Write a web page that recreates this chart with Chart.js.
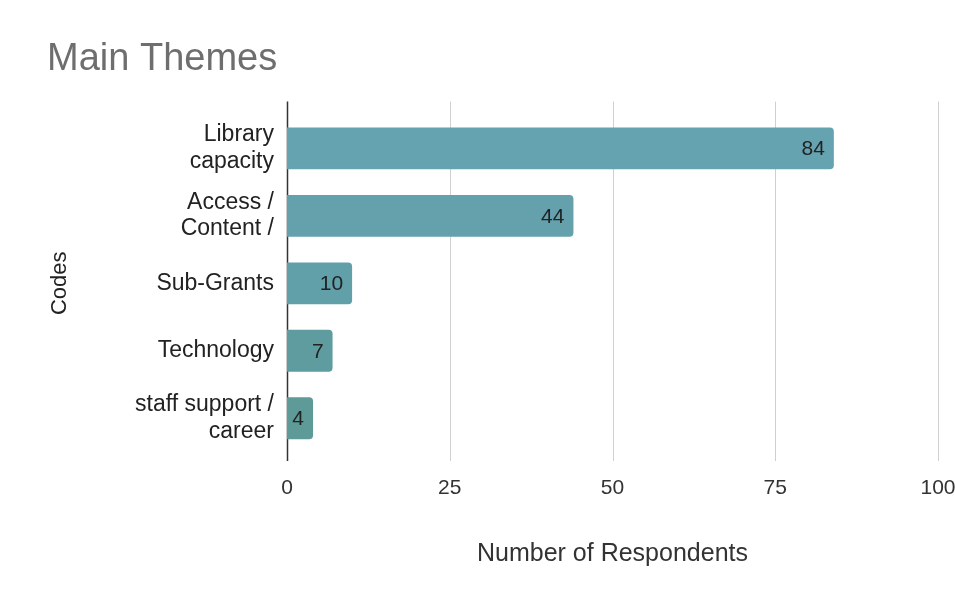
<!DOCTYPE html>
<html>
<head>
<meta charset="utf-8">
<script src="https://cdn.jsdelivr.net/npm/chart.js@4"></script>
<style>
  html, body { margin: 0; padding: 0; background: #fff; }
  canvas { display: block; }
</style>
</head>
<body>
<canvas id="themesChart" width="955" height="591"></canvas>
<script>
// Data
const categories = [['Library', 'capacity'], ['Access /', 'Content /'], 'Sub-Grants', 'Technology', ['staff support /', 'career']];
const respondents = [84, 44, 10, 7, 4];
const xTicks = [0, 25, 50, 75, 100];

const barColors = ['#66a3b0', '#64a1ad', '#62a0a9', '#5f9ca0', '#5e9a97'];
const FONT = '"Liberation Sans", Arial, sans-serif';

// gridlines + axis line, a bit taller than the plot area like the original
const gridPlugin = {
    id: 'gridLines',
    beforeDatasetsDraw(chart) {
        const { ctx, chartArea, scales } = chart;
        const top = chartArea.top - 13;
        const bottom = chartArea.bottom + 9;
        ctx.save();
        xTicks.forEach(v => {
            const x = Math.round(scales.x.getPixelForValue(v)) + 0.5;
            ctx.strokeStyle = v === 0 ? '#333333' : '#d0d0d0';
            ctx.lineWidth = v === 0 ? 1.5 : 1;
            ctx.beginPath();
            ctx.moveTo(x, top);
            ctx.lineTo(x, bottom);
            ctx.stroke();
        });
        ctx.restore();
    }
};

// value labels inside the end of each bar
const valueLabels = {
    id: 'valueLabels',
    afterDatasetsDraw(chart) {
        const { ctx } = chart;
        const meta = chart.getDatasetMeta(0);
        ctx.save();
        ctx.font = '21px ' + FONT;
        ctx.fillStyle = '#222';
        ctx.textAlign = 'right';
        ctx.textBaseline = 'middle';
        meta.data.forEach((bar, i) => {
            ctx.fillText(String(respondents[i]), bar.x - 9, bar.y + 1);
        });
        ctx.restore();
    }
};

const ctx = document.getElementById('themesChart').getContext('2d');
new Chart(ctx, {
    type: 'bar',
    data: {
        labels: categories,
        datasets: [{
            label: 'Number of Respondents',
            data: respondents,
            backgroundColor: barColors,
            borderRadius: 4,
            borderSkipped: 'start',
            barPercentage: 0.62,
            categoryPercentage: 1
        }]
    },
    options: {
        indexAxis: 'y',
        responsive: false,
        animation: false,
        layout: { padding: { left: 47, right: 17, top: 0, bottom: 18 } },
        plugins: {
            legend: { display: false },
            tooltip: { enabled: false },
            title: {
                display: true,
                text: 'Main Themes',
                align: 'start',
                color: '#6e6e6e',
                font: { family: FONT, size: 38, weight: 'normal', lineHeight: 1.2 },
                padding: { top: 37, bottom: 32 }
            }
        },
        scales: {
            x: {
                min: 0,
                max: 100,
                afterBuildTicks: scale => { scale.ticks = xTicks.map(v => ({ value: v })); },
                afterFit: scale => {
                    scale.height = 121;
                    // let the "100" run off the edge like in the original
                    scale.paddingRight = 0;
                },
                grid: { display: false, drawTicks: false },
                border: { display: false },
                ticks: {
                    padding: 24,
                    color: '#333',
                    maxRotation: 0,
                    font: { family: FONT, size: 21 }
                },
                title: {
                    display: true,
                    text: 'Number of Respondents',
                    color: '#333',
                    font: { family: FONT, size: 25, lineHeight: 1.2 },
                    padding: { top: 0, bottom: 4 }
                }
            },
            y: {
                afterFit: scale => { scale.width = 240; },
                grid: { display: false, drawTicks: false },
                border: { display: false },
                ticks: {
                    padding: 13,
                    color: '#222',
                    font: { family: FONT, size: 23, lineHeight: 1.15 }
                },
                title: {
                    display: true,
                    text: 'Codes',
                    color: '#222',
                    font: { family: FONT, size: 22, lineHeight: 1.2 },
                    padding: { top: 0, bottom: 0 }
                }
            }
        }
    },
    plugins: [gridPlugin, valueLabels]
});
</script>
</body>
</html>
